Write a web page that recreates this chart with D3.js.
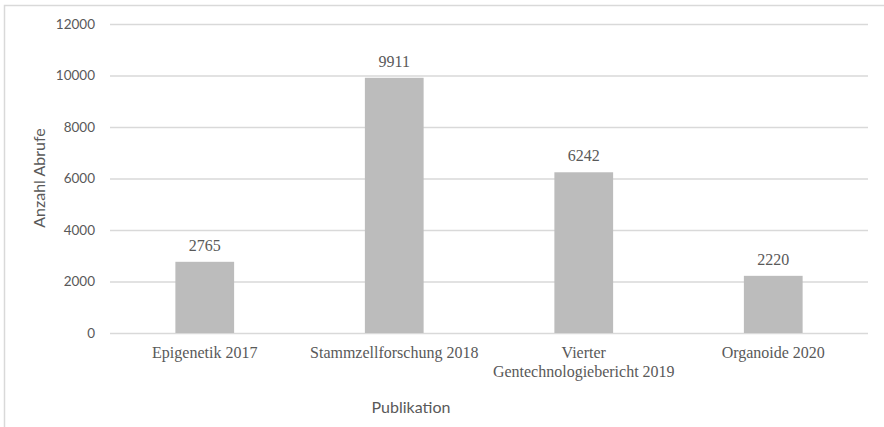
<!DOCTYPE html>
<html>
<head>
<meta charset="utf-8">
<script src="https://cdn.jsdelivr.net/npm/d3@7"></script>
<style>
  body { margin: 0; background: #fff; }
</style>
</head>
<body>
<div id="wrapper"></div>
<script>
// data
const categories = ["Epigenetik 2017", "Stammzellforschung 2018", "Vierter Gentechnologiebericht 2019", "Organoide 2020"];
const catLines = [["Epigenetik 2017"], ["Stammzellforschung 2018"], ["Vierter", "Gentechnologiebericht 2019"], ["Organoide 2020"]];
const abrufe = [2765, 9911, 6242, 2220];
const yTicks = [0, 2000, 4000, 6000, 8000, 10000, 12000];

const width = 884, height = 427;
const plotLeft = 110, plotRight = 868, plotTop = 24, plotBottom = 333;
const textColor = "#595959";

const svg = d3.select("#wrapper")
  .append("svg")
  .attr("width", width)
  .attr("height", height);

// chart border
svg.append("rect")
  .attr("x", 4.5).attr("y", 5.5)
  .attr("width", width + 10).attr("height", height + 10)
  .attr("fill", "none")
  .attr("stroke", "#d9d9d9")
  .attr("stroke-width", 1.5);

const x = d3.scaleBand()
  .domain(categories)
  .range([plotLeft, plotRight])
  .paddingInner(0.69)
  .paddingOuter(0.345);

const y = d3.scaleLinear()
  .domain([0, 12000])
  .range([plotBottom, plotTop]);

// gridlines + y labels
const yAxis = svg.append("g")
  .attr("transform", `translate(${plotLeft},0)`)
  .call(d3.axisLeft(y).tickValues(yTicks).tickSize(-(plotRight - plotLeft)).tickPadding(15).tickFormat(d3.format("d")));
yAxis.select(".domain").remove();
yAxis.selectAll(".tick line").attr("stroke", "#d9d9d9").attr("stroke-width", 1.5);
yAxis.selectAll(".tick text")
  .attr("fill", textColor)
  .attr("font-family", "Lato, 'Open Sans', sans-serif")
  .attr("font-size", 13.5);

// bars
svg.append("g")
  .selectAll("rect")
  .data(abrufe)
  .enter()
  .append("rect")
  .attr("x", (d, i) => x(categories[i]))
  .attr("y", d => y(d))
  .attr("width", x.bandwidth())
  .attr("height", d => y(0) - y(d))
  .attr("fill", "#bcbcbc");

// value labels
svg.append("g")
  .selectAll("text")
  .data(abrufe)
  .enter()
  .append("text")
  .attr("x", (d, i) => x(categories[i]) + x.bandwidth() / 2)
  .attr("y", d => y(d) - 11)
  .attr("text-anchor", "middle")
  .attr("font-family", "'Liberation Serif', 'Times New Roman', serif")
  .attr("font-size", 16)
  .attr("fill", textColor)
  .text(d => d);

// category labels
const catG = svg.append("g")
  .selectAll("text")
  .data(catLines)
  .enter()
  .append("text")
  .attr("text-anchor", "middle")
  .attr("font-family", "'Liberation Serif', 'Times New Roman', serif")
  .attr("font-size", 16)
  .attr("fill", textColor);
catG.each(function(lines, i) {
  const cx = x(categories[i]) + x.bandwidth() / 2;
  d3.select(this).selectAll("tspan")
    .data(lines)
    .enter()
    .append("tspan")
    .attr("x", cx)
    .attr("y", (l, j) => plotBottom + 25 + j * 19)
    .text(l => l);
});

// axis titles
svg.append("text")
  .attr("transform", `translate(45,178) rotate(-90)`)
  .attr("text-anchor", "middle")
  .attr("font-family", "Lato, 'Open Sans', sans-serif")
  .attr("font-size", 16)
  .attr("fill", textColor)
  .text("Anzahl Abrufe");

svg.append("text")
  .attr("x", 411)
  .attr("y", 413)
  .attr("text-anchor", "middle")
  .attr("font-family", "Lato, 'Open Sans', sans-serif")
  .attr("font-size", 16)
  .attr("fill", textColor)
  .text("Publikation");
</script>
</body>
</html>
